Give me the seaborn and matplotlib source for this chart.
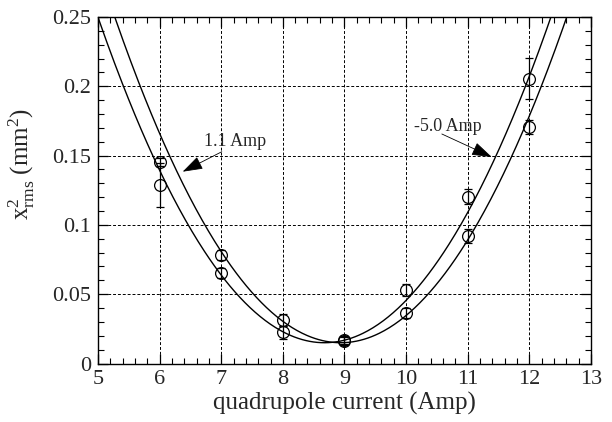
import numpy as np
import pandas as pd
import matplotlib
matplotlib.use("Agg")
import matplotlib.pyplot as plt
import seaborn as sns
from matplotlib.ticker import MultipleLocator

# ---- data ----
current = [6, 7, 8, 9, 10, 11, 12]
x2_p11 = [0.1456, 0.0783, 0.0314, 0.0170, 0.0367, 0.0920, 0.1706]   # 1.1 Amp
err_p11 = [0.003, 0.0036, 0.004, 0.003, 0.0036, 0.005, 0.005]
x2_m50 = [0.1288, 0.0651, 0.0225, 0.0160, 0.0530, 0.1204, 0.2053]   # -5.0 Amp
err_m50 = [0.0156, 0.0035, 0.0045, 0.003, 0.0045, 0.0053, 0.0148]

# parabolic fit parameters: a*(x-x0)^2 + c
fit_p11 = [0.01748, 8.94, 0.0150]
fit_m50 = [0.01740, 8.675, 0.0150]

xticks = [5, 6, 7, 8, 9, 10, 11, 12, 13]
yticks = [0, 0.05, 0.1, 0.15, 0.2, 0.25]
ytick_labels = ["0", "0.05", "0.1", "0.15", "0.2", "0.25"]

sns.set_style("ticks")
plt.rcParams["font.family"] = ["Liberation Serif", "DejaVu Serif"]
plt.rcParams["mathtext.fontset"] = "custom"
plt.rcParams["mathtext.rm"] = "Liberation Serif"
plt.rcParams["mathtext.it"] = "Liberation Serif:italic"

fig = plt.figure(figsize=(6.12, 4.22), dpi=100)
ax = fig.add_axes([0.160, 0.1386, 0.8057, 0.8211])

xx = np.linspace(4.9, 13.1, 400)
for p in (fit_p11, fit_m50):
    df = pd.DataFrame({"x": xx, "y": p[0] * (xx - p[1]) ** 2 + p[2]})
    sns.lineplot(data=df, x="x", y="y", ax=ax, color="black", lw=1.0)

for y, e in ((x2_p11, err_p11), (x2_m50, err_m50)):
    ax.errorbar(current, y, yerr=e, fmt="o", mfc="none", mec="black",
                ecolor="black", ms=8.5, mew=0.9, elinewidth=0.9, capsize=3,
                capthick=0.9, zorder=5)

ax.set_xlim(5, 13)
ax.set_ylim(0, 0.25)
ax.set_xticks(xticks)
ax.set_xticklabels([str(t) for t in xticks])
ax.set_yticks(yticks)
ax.set_yticklabels(ytick_labels)
ax.xaxis.set_minor_locator(MultipleLocator(0.2))
ax.yaxis.set_minor_locator(MultipleLocator(0.01))
ax.tick_params(which="both", direction="in", top=True, right=True,
               labelsize=16, color="black")
ax.tick_params(which="major", length=7, width=0.9, pad=5)
ax.tick_params(which="minor", length=4, width=0.8)
for s in ax.spines.values():
    s.set_linewidth(1.0)
    s.set_color("black")

ax.grid(True, which="major", color="black", ls=(0, (3, 2)), lw=0.7)

ax.set_xlabel("quadrupole current (Amp)", fontsize=18, labelpad=2)
ax.set_ylabel(r"x$^2_{\rm rms}$ (mm$^2$)", fontsize=18)
ax.yaxis.set_label_coords(-0.124, 0.575)

astyle = dict(arrowstyle="-|>,head_length=0.9,head_width=0.3", color="black",
              lw=0.6, mutation_scale=14, shrinkA=0, shrinkB=0)
ax.text(7.22, 0.160, "1.1 Amp", fontsize=13, ha="center", va="center")
ax.annotate("", xy=(6.375, 0.1384), xytext=(7.01, 0.1528), arrowprops=astyle)
ax.text(10.67, 0.171, "-5.0 Amp", fontsize=13, ha="center", va="center")
ax.annotate("", xy=(11.39, 0.149), xytext=(10.58, 0.1656), arrowprops=astyle)

fig.savefig("out.png", dpi=100)
